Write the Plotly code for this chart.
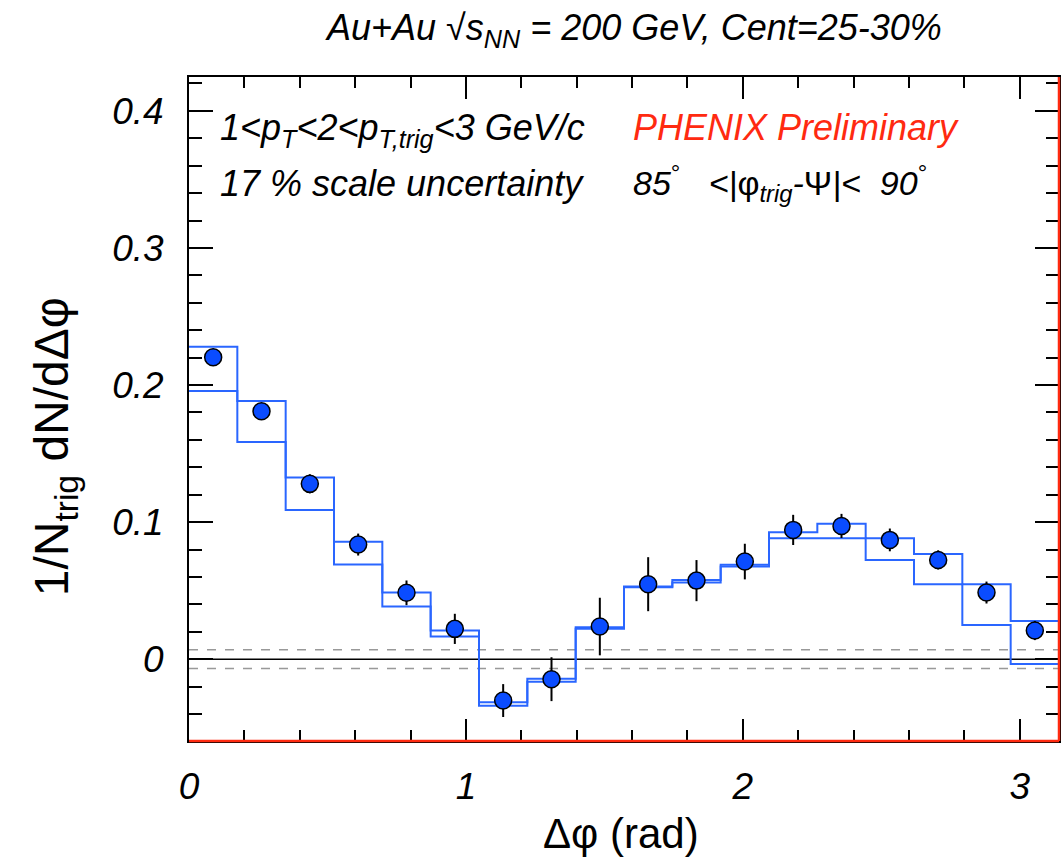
import numpy as np
import plotly.graph_objects as go

# ---- data ----
n_bins = 18
y_vals = [0.2203, 0.1809, 0.1279, 0.0836, 0.0484, 0.0221, -0.0302, -0.0146, 0.0238,
          0.0547, 0.0573, 0.0712, 0.0943, 0.0972, 0.0870, 0.0724, 0.0486, 0.0209]
y_errs = [0.004, 0.004, 0.007, 0.008, 0.009, 0.011, 0.012, 0.016, 0.021,
          0.0197, 0.015, 0.013, 0.011, 0.0088, 0.0083, 0.007, 0.008, 0.007]
sys_upper = [0.228, 0.1884, 0.1325, 0.0856, 0.0486, 0.0209, -0.0315, -0.0143, 0.0232,
             0.0530, 0.0578, 0.0688, 0.0926, 0.0987, 0.0883, 0.0768, 0.0547, 0.0279]
sys_lower = [0.1957, 0.1585, 0.1089, 0.0690, 0.0384, 0.0165, -0.0340, -0.0165, 0.0222,
             0.0525, 0.0559, 0.0676, 0.0883, 0.0883, 0.0724, 0.0547, 0.0250, -0.0036]
zyam_band = 0.0068

x_range = [0, np.pi]
y_range = [-0.0597, 0.4247]
y_ticks = [0, 0.1, 0.2, 0.3, 0.4]
y_ticktext = ["0", "0.1", "0.2", "0.3", "0.4"]

edges = np.linspace(0, np.pi, n_bins + 1)
centers = 0.5 * (edges[:-1] + edges[1:])

FONT = "Liberation Sans"
BLUE_LINE = "#2a66ff"
BLUE_MARK = "#0a4cff"
RED = "#ff2a10"

fig = go.Figure()

# zero line and ZYAM band
fig.add_trace(go.Scatter(x=x_range, y=[0, 0], mode="lines",
                         line=dict(color="black", width=1.5), hoverinfo="skip", showlegend=False))
for s in (1, -1):
    fig.add_trace(go.Scatter(x=x_range, y=[s * zyam_band] * 2, mode="lines",
                             line=dict(color="#999999", width=1.5, dash="dash"),
                             hoverinfo="skip", showlegend=False))

# systematic envelopes as step histograms
for band in (sys_upper, sys_lower):
    fig.add_trace(go.Scatter(x=edges, y=list(band) + [band[-1]], mode="lines",
                             line=dict(color=BLUE_LINE, width=2, shape="hv"),
                             hoverinfo="skip", showlegend=False))

# data points
fig.add_trace(go.Scatter(x=centers, y=y_vals, mode="markers",
                         marker=dict(size=17, color=BLUE_MARK, line=dict(color="black", width=1.5)),
                         error_y=dict(type="data", array=y_errs, color="black", thickness=2, width=0),
                         showlegend=False))

axis_common = dict(showline=True, linecolor="black", linewidth=2, mirror="allticks",
                   ticks="inside", tickcolor="black", tickwidth=2,
                   showgrid=False, zeroline=False,
                   tickfont=dict(family=FONT, size=37, color="black", style="italic"))

fig.update_xaxes(range=x_range, dtick=1, tick0=0, ticklen=22, ticklabelstandoff=12,
                 minor=dict(ticks="inside", dtick=0.2, ticklen=11, tickcolor="black", tickwidth=2),
                 **axis_common)
fig.update_yaxes(range=y_range, tickvals=y_ticks, ticktext=y_ticktext, ticklen=24,
                 ticklabelstandoff=16,
                 minor=dict(ticks="inside", dtick=0.02, ticklen=13, tickcolor="black", tickwidth=2),
                 **axis_common)

L, R, T, B = 189, 2, 77, 119
W, H = 1063, 860
pw, ph = W - L - R, H - T - B

def px(x):
    return (x - L) / pw

def py(y):
    return (H - B - y) / ph

ann = []
ann.append(dict(text="<i>Au+Au</i> √<i>s<sub>NN</sub> = 200 GeV, Cent=25-30%</i>", x=px(635), y=py(30),
                xanchor="center", yanchor="middle", font=dict(size=36)))
ann.append(dict(text="<i>1<p<sub>T</sub><2<p<sub>T,trig</sub><3 GeV/c</i>", x=px(218), y=py(130),
                xanchor="left", yanchor="middle", font=dict(size=36)))
ann.append(dict(text="<i>17 % scale uncertainty</i>", x=px(218), y=py(183),
                xanchor="left", yanchor="middle", font=dict(size=36)))
ann.append(dict(text="<i>PHENIX Preliminary</i>", x=px(632), y=py(128),
                xanchor="left", yanchor="middle", font=dict(size=36, color=RED)))
ann.append(dict(text="<i>85</i><sup>°</sup>   <i><|</i>φ<sub><i>trig</i></sub><i>-</i>Ψ<i>|<  90</i><sup>°</sup>",
                x=px(632), y=py(183), xanchor="left", yanchor="middle", font=dict(size=34)))
ann.append(dict(text="Δφ (rad)", x=px(622), y=py(833), xanchor="center", yanchor="middle",
                font=dict(size=42)))
ann.append(dict(text="1/N<sub>trig</sub> dN/dΔφ", x=px(55), y=py(447), xanchor="center",
                yanchor="middle", textangle=-90, font=dict(size=48)))
for a in ann:
    a.update(xref="paper", yref="paper", showarrow=False)
    a["font"].setdefault("color", "black")
    a["font"]["family"] = FONT

fig.update_layout(
    width=W, height=H, margin=dict(l=L, r=R, t=T, b=B),
    plot_bgcolor="white", paper_bgcolor="white",
    annotations=ann,
    shapes=[
        dict(type="line", xref="paper", yref="paper", x0=0, x1=1, y0=0, y1=0,
             line=dict(color=RED, width=2.5)),
        dict(type="line", xref="paper", yref="paper", x0=1, x1=1, y0=0, y1=1,
             line=dict(color=RED, width=2.5)),
    ],
)

fig.write_html("out.html")
